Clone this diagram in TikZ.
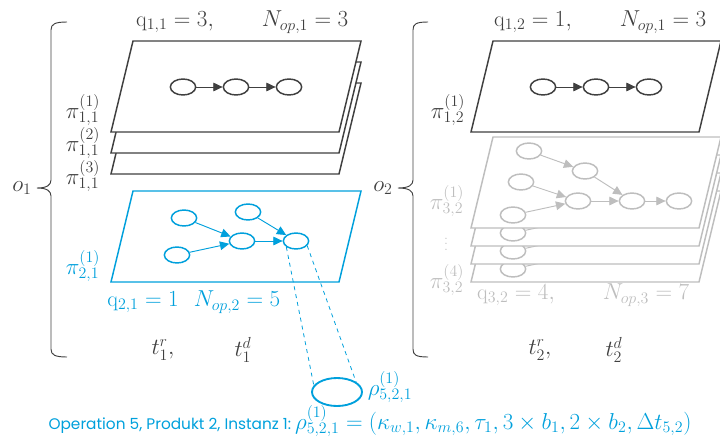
\documentclass[tikz,border=0pt]{standalone}
\usepackage{fontspec}
\newfontfamily\gothic{Poppins}
\usetikzlibrary{arrows.meta,shapes.geometric}
\definecolor{myblue}{RGB}{0,160,220}
\definecolor{dark}{RGB}{64,64,64}
\definecolor{lgray}{RGB}{190,190,190}
\begin{document}
\begin{tikzpicture}[x=0.75pt,y=-0.75pt,
  op/.style={ellipse, draw, line width=1.1pt, minimum width=19pt, minimum height=12pt, inner sep=0pt, fill=white},
  plane/.style={line width=1.1pt, fill=white},
  arr/.style={-{Triangle[length=7pt,width=6.5pt]}, line width=0.7pt},
  lbl/.style={font=\fontsize{16.5}{18}\selectfont, inner sep=0pt, text=dark},
  brace/.style={line width=0.7pt, draw=dark}]
\useasboundingbox (0,0) rectangle (720,439);

% ---------- left product ----------
\draw[brace] (67,22) .. controls (55,22) and (51,24) .. (51,30) -- (51,180)
  .. controls (51,185) and (47,188) .. (37,188) .. controls (47,188) and (51,191) .. (51,196)
  -- (51,349) .. controls (51,355) and (55,357) .. (67,357);
\node[lbl] (o1) at (22,188) {$o_1$};

\foreach \s in {83,62,41}
  \draw[plane, draw=dark, shift={(111,\s)}] (22,0) -- (250,0) -- (228,91) -- (0,91) -- cycle;
\node[op, draw=dark] (a1) at (183,87) {};
\node[op, draw=dark] (a2) at (236,87) {};
\node[op, draw=dark] (a3) at (289,87) {};
\draw[arr, dark] (a1) -- (a2);
\draw[arr, dark] (a2) -- (a3);

\node[lbl] (q11) at (175,22) {$\mathrm{q}_{1,1}=3,$};
\node[lbl] (n11) at (305,22) {$N_{op,1}=3$};
\node[lbl] (p111) at (83,110) {$\pi^{(1)}_{1,1}$};
\node[lbl] (p112) at (83,143) {$\pi^{(2)}_{1,1}$};
\node[lbl] (p113) at (83,176) {$\pi^{(3)}_{1,1}$};

% blue plane
\draw[plane, draw=myblue, shift={(111,191)}] (22,0) -- (250,0) -- (228,91) -- (0,91) -- cycle;
\node[op, draw=myblue] (c1) at (184,218) {};
\node[op, draw=myblue] (c2) at (177,255) {};
\node[op, draw=myblue] (c3) at (248,212) {};
\node[op, draw=myblue] (c4) at (242,241) {};
\node[op, draw=myblue] (c5) at (296,241) {};
\draw[arr, myblue] (c1) -- (c4);
\draw[arr, myblue] (c2) -- (c4);
\draw[arr, myblue] (c4) -- (c5);
\draw[arr, myblue] (c3) -- (c5);
\node[lbl, text=myblue] (p21) at (83,266) {$\pi^{(1)}_{2,1}$};
\node[lbl, text=myblue] (q21) at (143,302) {$\mathrm{q}_{2,1}=1$};
\node[lbl, text=myblue] (n21) at (237,302) {$N_{op,2}=5$};

\node[lbl] (t1r) at (163,350) {$t_1^r,$};
\node[lbl] (t1d) at (243,350) {$t_1^d$};

% zoomed operation
\node[ellipse, draw=myblue, line width=1.4pt, minimum width=37.5pt, minimum height=21pt, inner sep=0pt] (big) at (337,392) {};
\draw[myblue, dashed, line width=0.6pt] (c5.212) -- (big.164);
\draw[myblue, dashed, line width=0.6pt] (c5.-23) -- (big.28);
\node[lbl, text=myblue] (rho) at (390,387) {$\rho^{(1)}_{5,2,1}$};

\node[lbl, text=myblue, font=\fontsize{18}{20}\selectfont] (cap) at (370,421)
  {{\gothic\fontsize{11.5}{13}\selectfont Operation 5, Produkt 2, Instanz 1:}\,$\rho^{(1)}_{5,2,1}=(\kappa_{w,1},\kappa_{m,6},\tau_1,3\times b_1,2\times b_2,\Delta t_{5,2})$};

% ---------- right product ----------
\draw[brace] (428,22) .. controls (416,22) and (413,24) .. (413,30) -- (413,180)
  .. controls (413,185) and (409,188) .. (398,188) .. controls (409,188) and (413,191) .. (413,196)
  -- (413,349) .. controls (413,355) and (416,357) .. (428,357);
\node[lbl] (o2) at (383,188) {$o_2$};

\draw[plane, draw=dark, shift={(471,41)}] (22,0) -- (250,0) -- (228,91) -- (0,91) -- cycle;
\node[op, draw=dark] (b1) at (543,87) {};
\node[op, draw=dark] (b2) at (596,87) {};
\node[op, draw=dark] (b3) at (649,87) {};
\draw[arr, dark] (b1) -- (b2);
\draw[arr, dark] (b2) -- (b3);
\node[lbl] (q12) at (533,22) {$\mathrm{q}_{1,2}=1,$};
\node[lbl] (n12) at (663,22) {$N_{op,1}=3$};
\node[lbl] (p12) at (448,110) {$\pi^{(1)}_{1,2}$};

% gray stack
\foreach \s [count=\k] in {191,173,155,137}{
  \begin{scope}[shift={(471,\s)}]
    \draw[plane, draw=lgray] (22,0) -- (250,0) -- (228,91) -- (0,91) -- cycle;
    \node[op, draw=lgray] (g1-\k) at (58,14) {};
    \node[op, draw=lgray] (g2-\k) at (114,34) {};
    \node[op, draw=lgray] (g3-\k) at (50,45) {};
    \node[op, draw=lgray] (g4-\k) at (107,64) {};
    \node[op, draw=lgray] (g5-\k) at (161,64) {};
    \node[op, draw=lgray] (g6-\k) at (208,64) {};
    \node[op, draw=lgray] (g7-\k) at (42,78) {};
    \draw[arr, lgray] (g1-\k) -- (g2-\k);
    \draw[arr, lgray] (g2-\k) -- (g5-\k);
    \draw[arr, lgray] (g3-\k) -- (g4-\k);
    \draw[arr, lgray] (g7-\k) -- (g4-\k);
    \draw[arr, lgray] (g4-\k) -- (g5-\k);
    \draw[arr, lgray] (g5-\k) -- (g6-\k);
  \end{scope}
}
\node[lbl, text=lgray] (p321) at (447,201) {$\pi^{(1)}_{3,2}$};
\node[lbl, text=lgray, font=\fontsize{9}{4.2}\selectfont, align=center] (vd) at (446,244) {.\\.\\.};
\node[lbl, text=lgray] (p324) at (447,280) {$\pi^{(4)}_{3,2}$};
\node[lbl, text=lgray] (q32) at (516,295) {$\mathrm{q}_{3,2}=4,$};
\node[lbl, text=lgray] (n32) at (646,295) {$N_{op,3}=7$};

\node[lbl] (t2r) at (540,350) {$t_2^r,$};
\node[lbl] (t2d) at (614,350) {$t_2^d$};
\end{tikzpicture}
\end{document}
